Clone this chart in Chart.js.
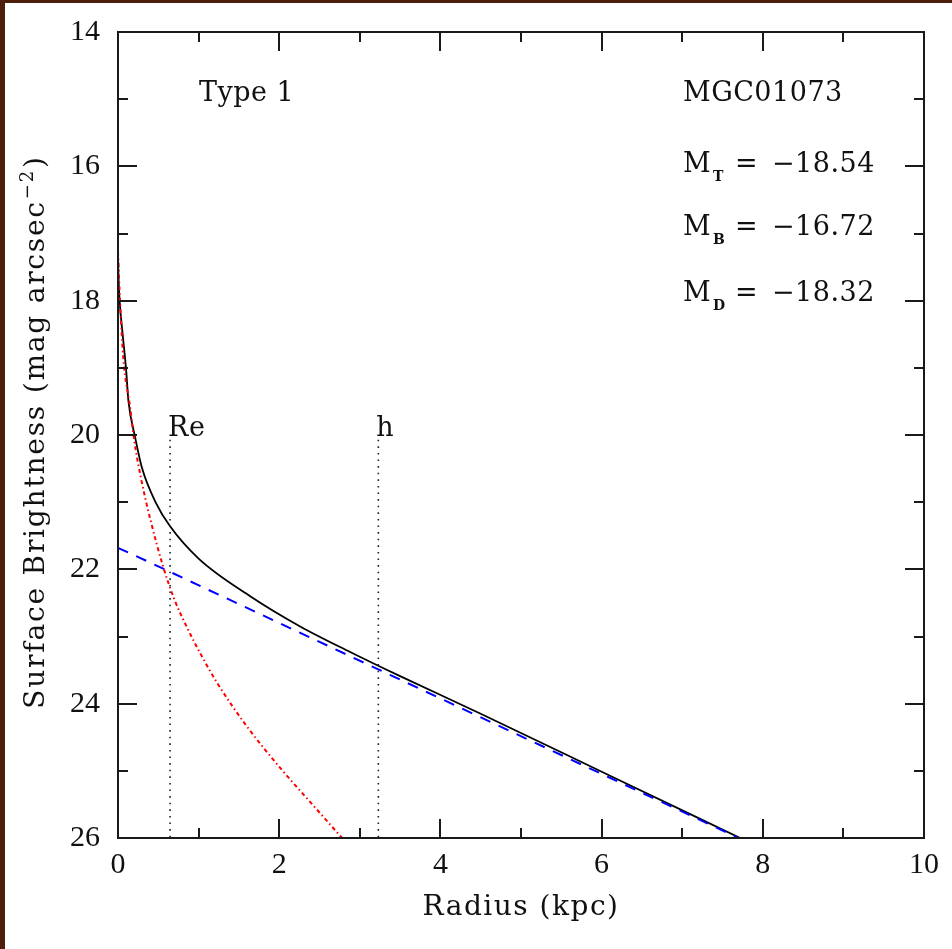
<!DOCTYPE html>
<html lang="en">
<head>
<meta charset="UTF-8">
<title>MGC01073 surface brightness profile</title>
<style>
  html, body { margin: 0; padding: 0; background: #fff; overflow: hidden; }
  .wrap { position: relative; width: 952px; height: 949px; }
  .edge-top { position: absolute; left: 0; top: 0; width: 952px; height: 3px; background: #4d1f0a; }
  .edge-left { position: absolute; left: 0; top: 0; width: 5px; height: 949px; background: #4d1f0a; }
  canvas { position: absolute; left: 0; top: 0; }
</style>
<script src="https://cdn.jsdelivr.net/npm/chart.js"></script>
</head>
<body>
<div class="wrap">
  <canvas id="profileChart" width="952" height="949"></canvas>
  <div class="edge-top"></div>
  <div class="edge-left"></div>
</div>
<script>
// values: radius in kpc, surface brightness in mag arcsec^-2
const totalRadius = [0, 0.005, 0.02, 0.058, 0.10, 0.13, 0.21, 0.30, 0.47, 0.646, 1.0, 1.64, 2.26, 2.88, 3.5, 4.5, 6.15, 7.72];
const totalMu     = [17.27, 17.6, 18.0, 18.5, 19.02, 19.5, 20.02, 20.5, 21.01, 21.36, 21.84, 22.40, 22.85, 23.23, 23.59, 24.15, 25.10, 26.0];

const bulgeRadius = [0, 0.025, 0.066, 0.15, 0.20, 0.29, 0.40, 0.56, 0.70, 0.85, 1.02, 1.23, 1.60, 2.05, 2.30, 2.78];
const bulgeMu     = [17.27, 18.0, 18.86, 19.58, 20.07, 20.67, 21.25, 21.96, 22.45, 22.85, 23.25, 23.69, 24.34, 25.01, 25.35, 26.0];

const diskRadius = [0, 0.40, 3.23, 6.15, 7.70];
const diskMu     = [21.68, 21.90, 23.49, 25.13, 26.0];

// Re and h markers
const markerNames  = ['Re', 'h'];
const markerRadius = [0.646, 3.23];
const markerMu     = [20.07, 26.0];

const xTicks = [0, 2, 4, 6, 8, 10];
const yTicks = [14, 16, 18, 20, 22, 24, 26];

const galaxyName = 'MGC01073';
const profileType = 'Type 1';
const magLabels = ['T', 'B', 'D'];
const magValues = ['\u221218.54', '\u221216.72', '\u221218.32'];

const serif = '"DejaVu Serif", serif';
const tickFamily = '"Liberation Serif", serif';
const ink = '#111';

function pts(xs, ys) {
    return xs.map((v, i) => ({ x: v, y: ys[i] }));
}

// frame with inward ticks on all four sides
const framePlugin = {
    id: 'frame',
    afterDatasetsDraw(chart) {
        const { ctx, chartArea: a, scales: { x, y } } = chart;
        ctx.save();
        ctx.strokeStyle = '#1a1a1a';
        ctx.lineWidth = 2;
        ctx.strokeRect(a.left, a.top, a.right - a.left, a.bottom - a.top);
        ctx.beginPath();
        for (let v = x.min; v <= x.max; v++) {
            const px = Math.round(x.getPixelForValue(v));
            const len = v % 2 === 0 ? 19 : 10;
            ctx.moveTo(px, a.bottom); ctx.lineTo(px, a.bottom - len);
            ctx.moveTo(px, a.top); ctx.lineTo(px, a.top + len);
        }
        for (let v = y.min; v <= y.max; v++) {
            const py = Math.round(y.getPixelForValue(v));
            const len = v % 2 === 0 ? 19 : 10;
            ctx.moveTo(a.left, py); ctx.lineTo(a.left + len, py);
            ctx.moveTo(a.right, py); ctx.lineTo(a.right - len, py);
        }
        ctx.stroke();
        ctx.restore();
    }
};

// axis titles and the text inside the plot
const textPlugin = {
    id: 'texts',
    afterDraw(chart) {
        const { ctx, chartArea: a, scales: { x, y } } = chart;
        ctx.save();
        ctx.fillStyle = ink;
        ctx.textBaseline = 'alphabetic';

        // x title
        ctx.font = '28px ' + serif;
        ctx.letterSpacing = '1.5px';
        ctx.textAlign = 'center';
        ctx.fillText('Radius (kpc)', (a.left + a.right) / 2, 915);

        // y title, rotated, with superscript
        ctx.save();
        ctx.letterSpacing = '1.8px';
        ctx.translate(44, 433);
        ctx.rotate(-Math.PI / 2);
        ctx.textAlign = 'left';
        const main = 'Surface Brightness (mag arcsec';
        ctx.font = '28px ' + serif;
        const w1 = ctx.measureText(main).width;
        const w3 = ctx.measureText(')').width;
        ctx.font = '18px ' + serif;
        const w2 = ctx.measureText('\u22122').width;
        let sx = -(w1 + w2 + w3) / 2;
        ctx.font = '28px ' + serif;
        ctx.fillText(main, sx, 0);
        ctx.font = '18px ' + serif;
        ctx.fillText('\u22122', sx + w1 + 1, -11);
        ctx.font = '28px ' + serif;
        ctx.fillText(')', sx + w1 + w2 + 2, 0);
        ctx.restore();

        // labels
        ctx.letterSpacing = '0.5px';
        ctx.textAlign = 'left';
        ctx.font = '27px ' + serif;
        ctx.fillText(profileType, 199, 101);
        ctx.fillText(galaxyName, 683, 101);
        const rows = [172, 235, 301];
        magLabels.forEach((s, i) => {
            ctx.font = '27px ' + serif;
            ctx.fillText('M', 683, rows[i]);
            ctx.fillText('=', 735, rows[i]);
            ctx.fillText(magValues[i], 772, rows[i]);
            ctx.font = 'bold 14px ' + serif;
            ctx.fillText(s, 713, rows[i] + 9);
        });

        // marker names above the dotted lines
        ctx.font = '27px ' + serif;
        markerNames.forEach((s, i) => {
            ctx.fillText(s, x.getPixelForValue(markerRadius[i]) - 2, y.getPixelForValue(markerMu[0]) - 4);
        });
        ctx.restore();
    }
};

const markerSets = markerRadius.map((r, i) => ({
    label: markerNames[i],
    data: pts([r, r], markerMu),
    borderColor: '#222',
    borderWidth: 1.6,
    borderDash: [1.6, 5],
    tension: 0
}));

new Chart(document.getElementById('profileChart'), {
    type: 'line',
    data: {
        datasets: [
            ...markerSets,
            { label: 'Bulge', data: pts(bulgeRadius, bulgeMu), borderColor: '#ff0000', borderWidth: 2, borderDash: [4, 3, 1.5, 3], cubicInterpolationMode: 'monotone' },
            { label: 'Disk', data: pts(diskRadius, diskMu), borderColor: '#0000ff', borderWidth: 2, borderDash: [11, 9], tension: 0 },
            { label: 'Total', data: pts(totalRadius, totalMu), borderColor: '#000', borderWidth: 1.8, cubicInterpolationMode: 'monotone' }
        ]
    },
    options: {
        responsive: false,
        animation: false,
        devicePixelRatio: 1,
        layout: { padding: { left: 0, top: 32, right: 28, bottom: 51 } },
        elements: { point: { radius: 0 } },
        plugins: { legend: { display: false }, tooltip: { enabled: false } },
        scales: {
            x: {
                type: 'linear', min: 0, max: 10,
                afterFit: s => { s.height = 60; s.paddingLeft = 0; s.paddingRight = 0; },
                afterBuildTicks: s => { s.ticks = xTicks.map(v => ({ value: v })); },
                grid: { display: false, drawTicks: false },
                border: { display: false },
                ticks: { padding: 9, maxRotation: 0, autoSkip: false, color: ink, font: { family: tickFamily, size: 30 } }
            },
            y: {
                type: 'linear', min: 14, max: 26, reverse: true,
                afterFit: s => { s.width = 118; s.paddingTop = 0; s.paddingBottom = 0; },
                afterBuildTicks: s => { s.ticks = yTicks.map(v => ({ value: v })); },
                grid: { display: false, drawTicks: false },
                border: { display: false },
                ticks: { padding: 18, autoSkip: false, color: ink, font: { family: tickFamily, size: 30 } }
            }
        }
    },
    plugins: [framePlugin, textPlugin]
});
</script>
</body>
</html>
